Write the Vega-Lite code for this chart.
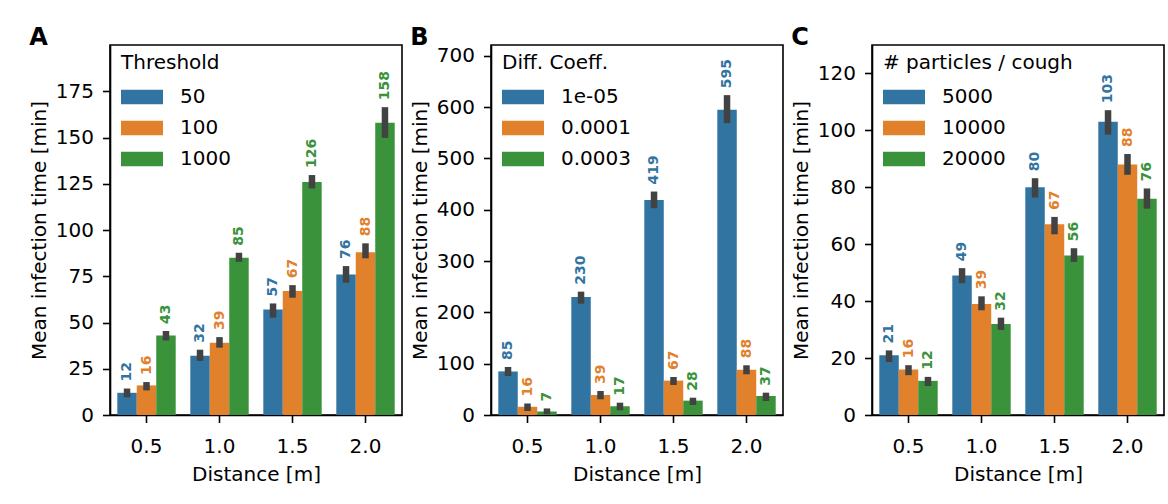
{
  "$schema": "https://vega.github.io/schema/vega-lite/v6.json",
  "padding": {"left": 28, "top": 25, "right": 0, "bottom": 0},
  "background": "white",
  "spacing": 6,
  "datasets": {
    "threshold": [
      {"d": "0.5", "g": "50", "v": 12, "lo": 9.5, "hi": 14.3},
      {"d": "0.5", "g": "100", "v": 16, "lo": 13.3, "hi": 17.8},
      {"d": "0.5", "g": "1000", "v": 43, "lo": 40.3, "hi": 45.4},
      {"d": "1.0", "g": "50", "v": 32, "lo": 29.2, "hi": 35.3},
      {"d": "1.0", "g": "100", "v": 39, "lo": 36.4, "hi": 42.1},
      {"d": "1.0", "g": "1000", "v": 85, "lo": 82.8, "hi": 87.7},
      {"d": "1.5", "g": "50", "v": 57, "lo": 52.6, "hi": 60.3},
      {"d": "1.5", "g": "100", "v": 67, "lo": 63.4, "hi": 70.2},
      {"d": "1.5", "g": "1000", "v": 126, "lo": 122.5, "hi": 129.7},
      {"d": "2.0", "g": "50", "v": 76, "lo": 71.5, "hi": 80.5},
      {"d": "2.0", "g": "100", "v": 88, "lo": 84.7, "hi": 92.8},
      {"d": "2.0", "g": "1000", "v": 158, "lo": 149.8, "hi": 166.4}
    ],
    "diffusion": [
      {"d": "0.5", "g": "1e-05", "v": 85, "lo": 76, "hi": 93.6},
      {"d": "0.5", "g": "0.0001", "v": 16, "lo": 7.8, "hi": 22.5},
      {"d": "0.5", "g": "0.0003", "v": 7, "lo": 1.4, "hi": 12.8},
      {"d": "1.0", "g": "1e-05", "v": 230, "lo": 217, "hi": 240.4},
      {"d": "1.0", "g": "0.0001", "v": 39, "lo": 30.6, "hi": 46.8},
      {"d": "1.0", "g": "0.0003", "v": 17, "lo": 9.2, "hi": 24},
      {"d": "1.5", "g": "1e-05", "v": 419, "lo": 403, "hi": 435.4},
      {"d": "1.5", "g": "0.0001", "v": 67, "lo": 58.5, "hi": 74.1},
      {"d": "1.5", "g": "0.0003", "v": 28, "lo": 19.5, "hi": 33.7},
      {"d": "2.0", "g": "1e-05", "v": 595, "lo": 568.7, "hi": 623.3},
      {"d": "2.0", "g": "0.0001", "v": 88, "lo": 79.4, "hi": 96.9},
      {"d": "2.0", "g": "0.0003", "v": 37, "lo": 27.3, "hi": 43.5}
    ],
    "particles": [
      {"d": "0.5", "g": "5000", "v": 21, "lo": 18.6, "hi": 22.7},
      {"d": "0.5", "g": "10000", "v": 16, "lo": 14, "hi": 17.5},
      {"d": "0.5", "g": "20000", "v": 12, "lo": 10.2, "hi": 13.4},
      {"d": "1.0", "g": "5000", "v": 49, "lo": 46.3, "hi": 51.6},
      {"d": "1.0", "g": "10000", "v": 39, "lo": 36.8, "hi": 41.7},
      {"d": "1.0", "g": "20000", "v": 32, "lo": 29.9, "hi": 34.2},
      {"d": "1.5", "g": "5000", "v": 80, "lo": 76.4, "hi": 83.2},
      {"d": "1.5", "g": "10000", "v": 67, "lo": 63.5, "hi": 69.6},
      {"d": "1.5", "g": "20000", "v": 56, "lo": 53.8, "hi": 58.6},
      {"d": "2.0", "g": "5000", "v": 103, "lo": 98.5, "hi": 107.1},
      {"d": "2.0", "g": "10000", "v": 88, "lo": 84.4, "hi": 91.7},
      {"d": "2.0", "g": "20000", "v": 76, "lo": 72.5, "hi": 79.6}
    ]
  },
  "hconcat": [
    {
      "width": 292,
      "height": 370,
      "title": {"text": "A"},
      "data": {"name": "threshold"},
      "encoding": {
        "x": {"field": "d", "type": "nominal", "title": "Distance [m]", "scale": {"type": "band", "paddingInner": 0.2, "paddingOuter": 0.1}},
        "xOffset": {"field": "g", "type": "nominal", "sort": ["50", "100", "1000"], "scale": {"type": "band", "paddingInner": 0, "paddingOuter": 0}},
        "color": {"field": "g", "type": "nominal", "sort": ["50", "100", "1000"],
          "scale": {"domain": ["50", "100", "1000"], "range": ["#3274a1", "#e1812c", "#3a923a"]},
          "legend": {"title": "Threshold", "orient": "none", "legendX": 11, "legendY": 8}}
      },
      "layer": [
        {"mark": {"type": "bar"},
         "encoding": {"y": {"field": "v", "type": "quantitative", "title": "Mean infection time [min]", "stack": null,
           "scale": {"domain": [0, 200], "nice": false}, "axis": {"values": [0, 25, 50, 75, 100, 125, 150, 175]}}}},
        {"mark": {"type": "rule", "strokeWidth": 6.5},
         "encoding": {"y": {"field": "lo", "type": "quantitative", "title": "Mean infection time [min]"}, "y2": {"field": "hi"}, "color": {"value": "#424242"}}},
        {"mark": {"type": "text", "angle": 270, "align": "left", "baseline": "middle", "dx": 7, "fontSize": 14, "fontWeight": "bold"},
         "encoding": {"y": {"field": "hi", "type": "quantitative", "title": "Mean infection time [min]"}, "text": {"field": "v", "type": "quantitative"}}}
      ]
    },
    {
      "width": 292,
      "height": 370,
      "title": {"text": "B"},
      "data": {"name": "diffusion"},
      "encoding": {
        "x": {"field": "d", "type": "nominal", "title": "Distance [m]", "scale": {"type": "band", "paddingInner": 0.2, "paddingOuter": 0.1}},
        "xOffset": {"field": "g", "type": "nominal", "sort": ["1e-05", "0.0001", "0.0003"], "scale": {"type": "band", "paddingInner": 0, "paddingOuter": 0}},
        "color": {"field": "g", "type": "nominal", "sort": ["1e-05", "0.0001", "0.0003"],
          "scale": {"domain": ["1e-05", "0.0001", "0.0003"], "range": ["#3274a1", "#e1812c", "#3a923a"]},
          "legend": {"title": "Diff. Coeff.", "orient": "none", "legendX": 11, "legendY": 8}}
      },
      "layer": [
        {"mark": {"type": "bar"},
         "encoding": {"y": {"field": "v", "type": "quantitative", "title": "Mean infection time [min]", "stack": null,
           "scale": {"domain": [0, 721], "nice": false}, "axis": {"values": [0, 100, 200, 300, 400, 500, 600, 700]}}}},
        {"mark": {"type": "rule", "strokeWidth": 6.5},
         "encoding": {"y": {"field": "lo", "type": "quantitative", "title": "Mean infection time [min]"}, "y2": {"field": "hi"}, "color": {"value": "#424242"}}},
        {"mark": {"type": "text", "angle": 270, "align": "left", "baseline": "middle", "dx": 7, "fontSize": 14, "fontWeight": "bold"},
         "encoding": {"y": {"field": "hi", "type": "quantitative", "title": "Mean infection time [min]"}, "text": {"field": "v", "type": "quantitative"}}}
      ]
    },
    {
      "width": 292,
      "height": 370,
      "title": {"text": "C"},
      "data": {"name": "particles"},
      "encoding": {
        "x": {"field": "d", "type": "nominal", "title": "Distance [m]", "scale": {"type": "band", "paddingInner": 0.2, "paddingOuter": 0.1}},
        "xOffset": {"field": "g", "type": "nominal", "sort": ["5000", "10000", "20000"], "scale": {"type": "band", "paddingInner": 0, "paddingOuter": 0}},
        "color": {"field": "g", "type": "nominal", "sort": ["5000", "10000", "20000"],
          "scale": {"domain": ["5000", "10000", "20000"], "range": ["#3274a1", "#e1812c", "#3a923a"]},
          "legend": {"title": "# particles / cough", "orient": "none", "legendX": 11, "legendY": 8}}
      },
      "layer": [
        {"mark": {"type": "bar"},
         "encoding": {"y": {"field": "v", "type": "quantitative", "title": "Mean infection time [min]", "stack": null,
           "scale": {"domain": [0, 130], "nice": false}, "axis": {"values": [0, 20, 40, 60, 80, 100, 120]}}}},
        {"mark": {"type": "rule", "strokeWidth": 6.5},
         "encoding": {"y": {"field": "lo", "type": "quantitative", "title": "Mean infection time [min]"}, "y2": {"field": "hi"}, "color": {"value": "#424242"}}},
        {"mark": {"type": "text", "angle": 270, "align": "left", "baseline": "middle", "dx": 7, "fontSize": 14, "fontWeight": "bold"},
         "encoding": {"y": {"field": "hi", "type": "quantitative", "title": "Mean infection time [min]"}, "text": {"field": "v", "type": "quantitative"}}}
      ]
    }
  ],
  "resolve": {"scale": {"color": "independent", "y": "independent", "x": "independent", "xOffset": "independent"}, "legend": {"color": "independent"}},
  "config": {
    "font": "DejaVu Sans",
    "view": {"stroke": "black", "strokeWidth": 1.6},
    "axis": {
      "grid": false,
      "domainColor": "black", "domainWidth": 1.6,
      "tickColor": "black", "tickWidth": 1.6, "tickSize": 7.5,
      "labelFontSize": 20, "labelColor": "black", "labelPadding": 9,
      "titleFontSize": 20, "titleFontWeight": "normal", "titleColor": "black"
    },
    "axisX": {"labelAngle": 0, "labelPadding": 14, "titlePadding": 8},
    "axisY": {"titlePadding": 6},
    "legend": {
      "titleFontSize": 20, "titleFontWeight": "normal", "titleColor": "black", "titleLimit": 400,
      "labelFontSize": 20, "labelColor": "black", "labelLimit": 300,
      "symbolType": "M-1,-0.34H1V0.34H-1Z", "symbolSize": 1764,
      "symbolStrokeWidth": 0, "symbolOpacity": 1,
      "labelOffset": 17, "rowPadding": 0, "titlePadding": 3
    },
    "title": {"fontSize": 24, "fontWeight": "bold", "color": "black", "anchor": "start", "frame": "bounds", "offset": -5}
  }
}
